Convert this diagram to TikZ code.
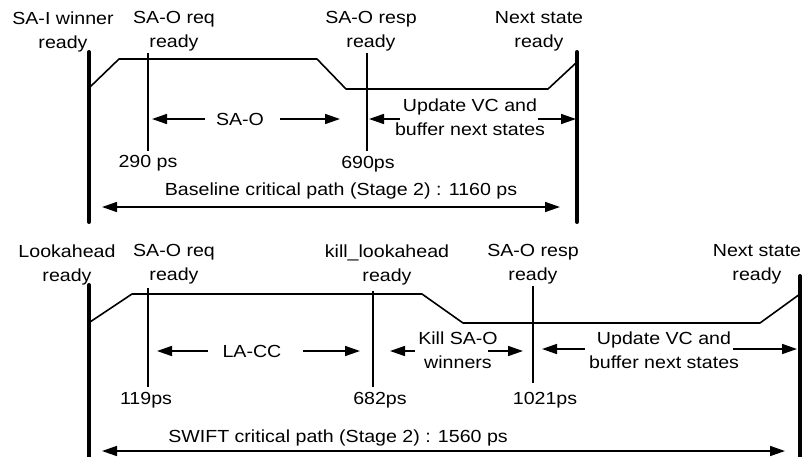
\documentclass[tikz,border=0pt]{standalone}
\usepackage{fontspec}
\setmainfont{Liberation Sans}[FakeStretch=1.12]
\usetikzlibrary{arrows.meta}

\tikzset{
  lbl/.style={inner sep=0pt, align=center, font=\fontsize{8.75pt}{12pt}\selectfont},
  bar/.style={line width=2pt, line cap=round},
  thin/.style={line width=0.8pt},
  wave/.style={line width=0.8pt, line join=round},
  arr/.style={line width=0.8pt, -{Triangle[length=7.5pt,width=5pt]}},
  darr/.style={line width=0.8pt, {Triangle[length=7.5pt,width=5pt]}-{Triangle[length=7.5pt,width=5pt]}}
}

\begin{document}
\begin{tikzpicture}[x=0.5pt,y=-0.5pt]
\useasboundingbox (0,0) rectangle (802,456);

% ---------------- Baseline pipeline ----------------
% stage boundaries
\coordinate (bLt) at (89,52);  \coordinate (bLb) at (89,222);
\coordinate (bRt) at (577,52); \coordinate (bRb) at (577,222);
\draw[bar] (bLt) -- (bLb);
\draw[bar] (bRt) -- (bRb);

% signal waveform
\coordinate (bw0) at (90,87);   \coordinate (bw1) at (119,59);
\coordinate (bw2) at (317,59);  \coordinate (bw3) at (346,89);
\coordinate (bw4) at (548,89);  \coordinate (bw5) at (577,62);
\draw[wave] (bw0) -- (bw1) -- (bw2) -- (bw3) -- (bw4) -- (bw5);

% event markers
\coordinate (bm1t) at (148,53); \coordinate (bm1b) at (148,151);
\coordinate (bm2t) at (367,53); \coordinate (bm2b) at (367,151);
\draw[thin] (bm1t) -- (bm1b);
\draw[thin] (bm2t) -- (bm2b);

% event labels
\node[lbl, anchor=north] (bSAI)  at (63,11)  {SA-I winner\\ready};
\node[lbl, anchor=north] (bReq)  at (174,11) {SA-O req\\ready};
\node[lbl, anchor=north] (bResp) at (371,11) {SA-O resp\\ready};
\node[lbl, anchor=north] (bNext) at (539,11) {Next state\\ready};

% SA-O interval
\node[lbl] (bSAO) at (240,119) {SA-O};
\coordinate (bSAOl0) at (205,119); \coordinate (bSAOl1) at (152,119);
\coordinate (bSAOr0) at (280,119); \coordinate (bSAOr1) at (340,119);
\draw[arr] (bSAOl0) -- (bSAOl1);
\draw[arr] (bSAOr0) -- (bSAOr1);

% update interval
\node[lbl, anchor=north] (bUpd) at (470,98) {Update VC and\\buffer next states};
\coordinate (bUl0) at (400,119); \coordinate (bUl1) at (369,119);
\coordinate (bUr0) at (538,119); \coordinate (bUr1) at (576,119);
\draw[arr] (bUl0) -- (bUl1);
\draw[arr] (bUr0) -- (bUr1);

% times
\node[lbl, anchor=base] (bT1) at (148,167) {290 ps};
\node[lbl, anchor=base] (bT2) at (368,168) {690ps};

% critical path
\node[lbl, anchor=base] (bCP) at (341,195) {Baseline critical path (Stage 2) : 1160 ps};
\coordinate (bCPl) at (102,207); \coordinate (bCPr) at (560,207);
\draw[darr] (bCPl) -- (bCPr);

% ---------------- SWIFT pipeline ----------------
% stage boundaries
\coordinate (sLt) at (89,285);  \coordinate (sLb) at (89,460);
\coordinate (sRt) at (800,276); \coordinate (sRb) at (800,460);
\draw[bar] (sLt) -- (sLb);
\draw[bar] (sRt) -- (sRb);

% signal waveform
\coordinate (sw0) at (90,322);  \coordinate (sw1) at (132,294);
\coordinate (sw2) at (422,294); \coordinate (sw3) at (463,323);
\coordinate (sw4) at (760,323); \coordinate (sw5) at (800,294);
\draw[wave] (sw0) -- (sw1) -- (sw2) -- (sw3) -- (sw4) -- (sw5);

% event markers
\coordinate (sm1t) at (148,288); \coordinate (sm1b) at (148,387);
\coordinate (sm2t) at (373,291); \coordinate (sm2b) at (373,387);
\coordinate (sm3t) at (533,286); \coordinate (sm3b) at (533,383);
\draw[thin] (sm1t) -- (sm1b);
\draw[thin] (sm2t) -- (sm2b);
\draw[thin] (sm3t) -- (sm3b);

% event labels
\node[lbl, anchor=north] (sLA)   at (67,244)  {Lookahead\\ready};
\node[lbl, anchor=north] (sReq)  at (174,244) {SA-O req\\ready};
\node[lbl, anchor=north] (sKill) at (387,244) {kill\_lookahead\\ready};
\node[lbl, anchor=north] (sResp) at (533,244) {SA-O resp\\ready};
\node[lbl, anchor=north] (sNext) at (757,244) {Next state\\ready};

% LA-CC interval
\node[lbl] (sLACC) at (252,351) {LA-CC};
\coordinate (sLl0) at (208,351); \coordinate (sLl1) at (157,351);
\coordinate (sLr0) at (303,351); \coordinate (sLr1) at (360,351);
\draw[arr] (sLl0) -- (sLl1);
\draw[arr] (sLr0) -- (sLr1);

% kill interval
\node[lbl, anchor=north] (sKW) at (458,331) {Kill SA-O\\winners};
\coordinate (sKl0) at (415,351); \coordinate (sKl1) at (390,351);
\coordinate (sKr0) at (488,351); \coordinate (sKr1) at (523,351);
\draw[arr] (sKl0) -- (sKl1);
\draw[arr] (sKr0) -- (sKr1);

% update interval
\node[lbl, anchor=north] (sUpd) at (664,331) {Update VC and\\buffer next states};
\coordinate (sUl0) at (585,349); \coordinate (sUl1) at (542,349);
\coordinate (sUr0) at (733,349); \coordinate (sUr1) at (797,349);
\draw[arr] (sUl0) -- (sUl1);
\draw[arr] (sUr0) -- (sUr1);

% times
\node[lbl, anchor=base] (sT1) at (146,404) {119ps};
\node[lbl, anchor=base] (sT2) at (380,404) {682ps};
\node[lbl, anchor=base] (sT3) at (545,404) {1021ps};

% critical path
\node[lbl, anchor=base] (sCP) at (338,442) {SWIFT critical path (Stage 2) : 1560 ps};
\coordinate (sCPl) at (102,451); \coordinate (sCPr) at (785,451);
\draw[darr] (sCPl) -- (sCPr);
\end{tikzpicture}
\end{document}
